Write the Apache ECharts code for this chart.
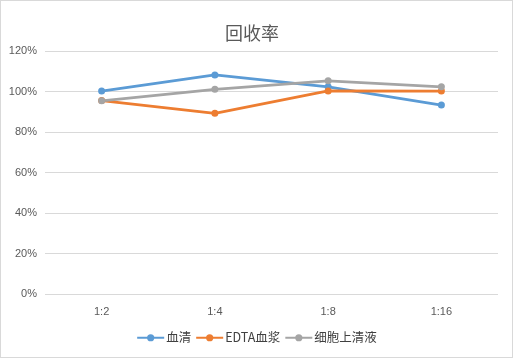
<!DOCTYPE html>
<html><head><meta charset="utf-8">
<script src="https://cdn.jsdelivr.net/npm/echarts@6/dist/echarts.min.js"></script>
<style>html,body{margin:0;padding:0;background:#fff}#c{width:511px;height:356px;border:1px solid #d9d9d9}</style>
</head><body><div id="c"></div>
<script>
const categories = ['1:2','1:4','1:8','1:16'];
const serum = [100.2, 108.2, 102.3, 93.3];
const edtaPlasma = [95.5, 89.2, 100.3, 100.2];
const cellSupernatant = [95.4, 101.1, 105.3, 102.3];
const seriesNames = ['血清','EDTA血浆','细胞上清液'];
const colors = ['#5B9BD5','#ED7D31','#A5A5A5'];
const chart = echarts.init(document.getElementById('c'));
const mk = (name, data, color) => ({
  name, type:'line', data, color, symbol:'circle', symbolSize:7,
  lineStyle:{width:2.75,color}, itemStyle:{color}
});
chart.setOption({
  animation:false,
  title:{text:'回收率',left:219,top:18,textStyle:{fontFamily:'Noto Sans CJK SC',fontWeight:'normal',fontSize:18,color:'#595959'}},
  legend:{bottom:8,left:'center',itemWidth:27,itemHeight:9,itemGap:4,
    textStyle:{fontFamily:'Noto Sans CJK SC',fontSize:12.5,color:'#404040',padding:[0,0,0,-3]},
    data:seriesNames},
  grid:{left:44,right:14,top:50,bottom:63},
  xAxis:{type:'category',data:categories,boundaryGap:true,
    axisLine:{show:false},axisTick:{show:false},
    axisLabel:{fontFamily:'Liberation Sans',fontSize:11,color:'#595959',margin:12}},
  yAxis:{type:'value',min:0,max:120,interval:20,
    axisLabel:{formatter:'{value}%',fontFamily:'Liberation Sans',fontSize:11,color:'#595959',margin:8},
    splitLine:{lineStyle:{color:'#d9d9d9',width:1}},axisLine:{show:false},axisTick:{show:false}},
  series:[mk(seriesNames[0],serum,colors[0]),mk(seriesNames[1],edtaPlasma,colors[1]),mk(seriesNames[2],cellSupernatant,colors[2])]
});
</script></body></html>
